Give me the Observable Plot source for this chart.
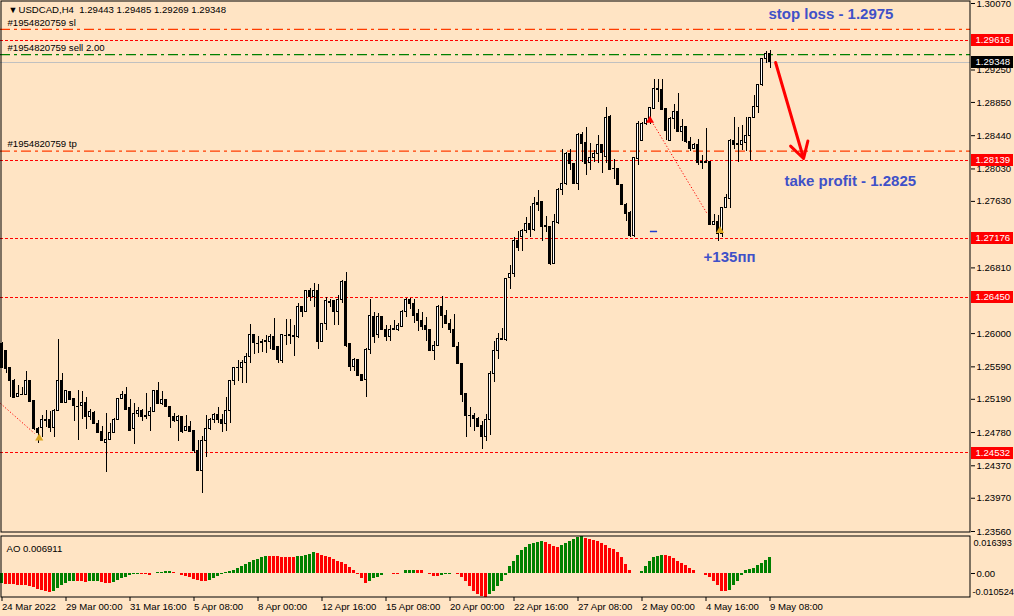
<!DOCTYPE html>
<html><head><meta charset="utf-8">
<script src="https://cdn.jsdelivr.net/npm/d3@7"></script>
<script src="https://cdn.jsdelivr.net/npm/@observablehq/plot@0.6"></script>
<style>
html,body{margin:0;padding:0;background:#ffe4c4;}
#wrap{position:relative;width:1014px;height:616px;overflow:hidden;}
#main{position:absolute;left:0;top:0;}
#ao{position:absolute;left:0;top:533px;}
svg{display:block;}
</style></head><body><div id="wrap"><div id="main"></div><div id="ao"></div></div>
<script>
const symbol = "USDCAD,H4";
const openP = [
1.2587,1.2578,1.2557,1.2542,1.2522,1.2525,1.2524,1.2541,1.2517,1.2482,
1.2483,1.2494,1.2493,1.2484,1.2504,1.2542,1.2514,1.2528,1.2519,1.2510,
1.2511,1.2515,1.2497,1.2502,1.2489,1.2479,1.2465,1.2469,1.2477,1.2494,
1.2519,1.2524,1.2508,1.2482,1.2501,1.2504,1.2497,1.2499,1.2503,1.2529,
1.2513,1.2518,1.2510,1.2497,1.2492,1.2497,1.2480,1.2485,1.2480,1.2455,
1.2430,1.2467,1.2482,1.2494,1.2500,1.2494,1.2489,1.2504,1.2541,1.2558,
1.2558,1.2564,1.2571,1.2598,1.2588,1.2588,1.2591,1.2590,1.2596,1.2583,
1.2566,1.2598,1.2598,1.2597,1.2596,1.2633,1.2627,1.2652,1.2645,1.2653,
1.2590,1.2612,1.2639,1.2640,1.2627,1.2642,1.2664,1.2587,1.2559,1.2568,
1.2549,1.2543,1.2580,1.2621,1.2598,1.2620,1.2605,1.2596,1.2606,1.2605,
1.2608,1.2627,1.2641,1.2637,1.2624,1.2616,1.2609,1.2605,1.2578,1.2585,
1.2633,1.2622,1.2612,1.2605,1.2583,1.2563,1.2525,1.2499,1.2498,1.2495,
1.2486,1.2473,1.2494,1.2550,1.2578,1.2593,1.2592,1.2668,1.2674,1.2714,
1.2719,1.2727,1.2735,1.2728,1.2761,1.2762,1.2733,1.2732,1.2686,1.2736,
1.2777,1.2785,1.2822,1.2809,1.2784,1.2845,1.2835,1.2810,1.2817,1.2822,
1.2833,1.2818,1.2867,1.2803,1.2803,1.2783,1.2759,1.2749,1.2720,1.2815,
1.2838,1.2858,1.2864,1.2877,1.2901,1.2900,1.2877,1.2838,1.2864,1.2873,
1.2849,1.2855,1.2836,1.2828,1.2832,1.2811,1.2812,1.2811,1.2734,1.2738,
1.2723,1.2755,1.2766,1.2838,1.2834,1.2833,1.2835,1.2844,1.2866,1.2879,
1.2906,1.2938,1.29443];
const highP = [
1.2589,1.2579,1.2558,1.2543,1.2536,1.2534,1.2553,1.2542,1.2517,1.2484,
1.2499,1.2505,1.2504,1.2506,1.2593,1.2551,1.2530,1.2528,1.2519,1.2530,
1.2529,1.2521,1.2506,1.2504,1.2493,1.2485,1.2501,1.2489,1.2495,1.2520,
1.2529,1.2534,1.2519,1.2514,1.2509,1.2506,1.2526,1.2509,1.2530,1.2540,
1.2529,1.2519,1.2510,1.2501,1.2499,1.2497,1.2499,1.2492,1.2480,1.2468,
1.2473,1.2499,1.2495,1.2501,1.2509,1.2500,1.2521,1.2542,1.2558,1.2567,
1.2567,1.2575,1.2611,1.2598,1.2596,1.2593,1.2598,1.2599,1.2619,1.2583,
1.2598,1.2617,1.2617,1.2610,1.2637,1.2634,1.2653,1.2656,1.2662,1.2661,
1.2613,1.2645,1.2642,1.2640,1.2647,1.2665,1.2675,1.2587,1.2569,1.2568,
1.2549,1.2582,1.2642,1.2626,1.2625,1.2621,1.2610,1.2610,1.2616,1.2612,
1.2628,1.2643,1.2643,1.2642,1.2630,1.2626,1.2620,1.2605,1.2590,1.2635,
1.2646,1.2628,1.2617,1.2624,1.2589,1.2563,1.2525,1.2509,1.2502,1.2497,
1.2492,1.2500,1.2553,1.2590,1.2600,1.2606,1.2668,1.2684,1.2719,1.2726,
1.2728,1.2743,1.2757,1.2768,1.2776,1.2762,1.2744,1.2732,1.2747,1.2779,
1.2827,1.2823,1.2827,1.2809,1.2847,1.2848,1.2854,1.2834,1.2826,1.2844,
1.2833,1.2879,1.2869,1.2815,1.2804,1.2783,1.2761,1.2750,1.2817,1.2862,
1.2860,1.2865,1.2879,1.2913,1.2913,1.2913,1.2878,1.2866,1.2882,1.2896,
1.2864,1.2855,1.2842,1.2834,1.2839,1.2820,1.2853,1.2811,1.2747,1.2746,
1.2756,1.2772,1.2839,1.2866,1.2854,1.2857,1.2866,1.2867,1.2894,1.2906,
1.2939,1.2948,1.29485];
const lowP = [
1.2557,1.2551,1.2521,1.2520,1.2521,1.2524,1.2524,1.2516,1.2480,1.2464,
1.2472,1.2484,1.2478,1.2472,1.2504,1.2514,1.2514,1.2518,1.2492,1.2468,
1.2494,1.2482,1.2493,1.2489,1.2478,1.2467,1.2429,1.2469,1.2477,1.2494,
1.2519,1.2506,1.2480,1.2463,1.2497,1.2492,1.2494,1.2479,1.2503,1.2513,
1.2511,1.2509,1.2483,1.2491,1.2467,1.2477,1.2479,1.2479,1.2452,1.2430,
1.2403,1.2447,1.2480,1.2489,1.2489,1.2478,1.2479,1.2489,1.2536,1.2541,
1.2538,1.2538,1.2563,1.2574,1.2575,1.2577,1.2575,1.2580,1.2580,1.2563,
1.2563,1.2585,1.2587,1.2572,1.2594,1.2620,1.2627,1.2640,1.2632,1.2580,
1.2590,1.2604,1.2632,1.2610,1.2610,1.2637,1.2583,1.2553,1.2553,1.2548,
1.2541,1.2521,1.2574,1.2588,1.2594,1.2604,1.2590,1.2590,1.2604,1.2603,
1.2608,1.2620,1.2630,1.2612,1.2603,1.2604,1.2590,1.2578,1.2567,1.2584,
1.2606,1.2611,1.2600,1.2583,1.2563,1.2515,1.2472,1.2484,1.2479,1.2484,
1.2457,1.2467,1.2474,1.2540,1.2568,1.2591,1.2590,1.2654,1.2669,1.2701,
1.2701,1.2723,1.2719,1.2726,1.2750,1.2714,1.2725,1.2684,1.2686,1.2735,
1.2770,1.2783,1.2801,1.2784,1.2777,1.2811,1.2795,1.2801,1.2811,1.2810,
1.2797,1.2810,1.2802,1.2790,1.2782,1.2758,1.2738,1.2719,1.2719,1.2807,
1.2837,1.2857,1.2858,1.2876,1.2885,1.2876,1.2838,1.2837,1.2852,1.2848,
1.2837,1.2834,1.2825,1.2828,1.2807,1.2802,1.2810,1.2733,1.2733,1.2714,
1.2719,1.2754,1.2754,1.2827,1.2811,1.2826,1.2825,1.2813,1.2866,1.2871,
1.2905,1.2933,1.29269];
const closeP = [
1.2558,1.2556,1.2541,1.2521,1.2525,1.2525,1.2541,1.2516,1.2482,1.2477,
1.2494,1.2492,1.2484,1.2504,1.2542,1.2514,1.2529,1.2518,1.2511,1.2510,
1.2515,1.2497,1.2503,1.2489,1.2478,1.2467,1.2469,1.2477,1.2494,1.2519,
1.2524,1.2506,1.2480,1.2501,1.2504,1.2497,1.2499,1.2503,1.2529,1.2513,
1.2518,1.2509,1.2497,1.2492,1.2497,1.2479,1.2485,1.2479,1.2455,1.2430,
1.2467,1.2482,1.2494,1.2500,1.2494,1.2489,1.2504,1.2541,1.2558,1.2558,
1.2564,1.2571,1.2598,1.2588,1.2588,1.2590,1.2590,1.2596,1.2580,1.2567,
1.2598,1.2598,1.2597,1.2596,1.2633,1.2627,1.2652,1.2645,1.2653,1.2590,
1.2612,1.2640,1.2638,1.2627,1.2642,1.2664,1.2585,1.2559,1.2568,1.2548,
1.2542,1.2580,1.2622,1.2596,1.2620,1.2604,1.2596,1.2605,1.2605,1.2609,
1.2627,1.2641,1.2636,1.2622,1.2615,1.2608,1.2605,1.2578,1.2585,1.2633,
1.2622,1.2612,1.2605,1.2583,1.2563,1.2524,1.2499,1.2499,1.2495,1.2485,
1.2472,1.2494,1.2550,1.2578,1.2593,1.2592,1.2667,1.2674,1.2714,1.2706,
1.2727,1.2735,1.2728,1.2760,1.2759,1.2732,1.2731,1.2686,1.2737,1.2777,
1.2785,1.2822,1.2809,1.2784,1.2845,1.2834,1.2809,1.2817,1.2822,1.2833,
1.2823,1.2866,1.2802,1.2803,1.2783,1.2758,1.2748,1.2720,1.2816,1.2859,
1.2858,1.2864,1.2878,1.2901,1.2900,1.2876,1.2850,1.2865,1.2873,1.2848,
1.2855,1.2836,1.2828,1.2832,1.2810,1.2810,1.2810,1.2734,1.2738,1.2723,
1.2755,1.2767,1.2838,1.2832,1.2832,1.2837,1.2844,1.2866,1.2880,1.2906,
1.2938,1.2945,1.29348];
const aoValues = [
-0.00464,-0.00472,-0.0048,-0.00496,-0.00512,-0.00528,-0.00544,-0.00576,-0.00624,-0.00688,
-0.00768,-0.00816,-0.00824,-0.00784,-0.00672,-0.00544,-0.00448,-0.00368,-0.00336,-0.00352,
-0.00368,-0.00384,-0.00376,-0.00368,-0.0036,-0.00416,-0.00448,-0.00456,-0.00416,-0.0032,
-0.0024,-0.00176,-0.00096,-0.00064,-0.00048,-0.00056,-0.00064,-0.00072,-0.00016,0.00032,
0.00064,0.0008,0.00088,0.00032,-0.00016,-0.0008,-0.00144,-0.00192,-0.00256,-0.0032,
-0.00368,-0.00376,-0.0032,-0.00224,-0.00112,-0.00048,0.00032,0.0008,0.00144,0.00224,
0.0032,0.00416,0.00496,0.00576,0.0064,0.00704,0.00768,0.00752,0.00744,0.00736,
0.00728,0.0072,0.00712,0.00704,0.00736,0.00768,0.008,0.00848,0.00912,0.0088,
0.00816,0.00752,0.00688,0.00608,0.00544,0.0048,0.004,0.00256,0.00128,-0.00032,
-0.0024,-0.00448,-0.00336,-0.0024,-0.0016,-0.00096,0.00016,-0.00016,-0.00024,-0.00032,
0.00016,0.00112,0.00144,0.00152,0.00144,0.00112,0.00016,-0.00064,-0.00112,-0.0012,
-0.0008,-0.00048,-0.00032,-0.00016,-0.00048,-0.00176,-0.00368,-0.00576,-0.00816,-0.00944,
-0.0104,-0.010524,-0.00944,-0.00784,-0.00576,-0.00368,-0.0008,0.00304,0.00528,0.00784,
0.01008,0.01136,0.01264,0.01328,0.01376,0.01424,0.0136,0.01296,0.012,0.01168,
0.01232,0.01328,0.01424,0.0152,0.01616,0.016393,0.01552,0.0152,0.01456,0.01424,
0.01328,0.01232,0.01104,0.01072,0.00912,0.00688,0.004,0.00144,0.00016,0.00008,
0.0008,0.00304,0.00528,0.0072,0.00752,0.00816,0.00784,0.00752,0.00656,0.00528,
0.00432,0.00336,0.00208,0.00112,0.00016,-0.00016,-0.0008,-0.00176,-0.00336,-0.00528,
-0.00784,-0.00816,-0.00752,-0.00528,-0.00336,-0.0008,0.00144,0.00176,0.0024,0.00336,
0.00464,0.00592,0.006911];

const yTickValues = [1.30070,1.29250,1.28850,1.28440,1.28030,1.27630,1.26810,1.26410,1.26000,1.25590,1.25190,1.24780,1.24370,1.23970,1.23560];
const dateTickBars = [0,16,32,48,64,80,96,112,128,144,160,176,192];
const dateTickLabels = ["24 Mar 2022","29 Mar 00:00","31 Mar 16:00","5 Apr 08:00","8 Apr 00:00","12 Apr 16:00","15 Apr 08:00","20 Apr 00:00","22 Apr 16:00","27 Apr 08:00","2 May 00:00","4 May 16:00","9 May 08:00"];

const levelPrices = [1.29616, 1.28139, 1.27176, 1.26450, 1.24532];
const orderLabels = ["#1954820759 sl", "#1954820759 sell 2.00", "#1954820759 tp"];
const orderPrices = [1.2975, 1.2944, 1.2825];
const bidPrice = 1.29348;

const annoTexts = ["stop loss - 1.2975", "take profit - 1.2825", "+135пп"];
const annoBars = [191.6, 195.6, 175.4];
const annoPrices = [1.29934, 1.27875, 1.26938];

const arrowFrom = {bar: 193.4, price: 1.29343};
const arrowTo = {bar: 200.4, price: 1.28159};
const tradeLinks = [
  {b1: 162.4, p1: 1.2862, b2: 176.4, p2: 1.2747},
  {b1: -0.4, p1: 1.2514, b2: 8.1, p2: 1.2477}
];
const tradeMarks = [
  {bar: 162.0, price: 1.2863, color: "#ff0000"},
  {bar: 179.5, price: 1.2727, color: "#daa520"},
  {bar: 9.3, price: 1.2471, color: "#daa520"}
];
const blueDash = {b1: 162.1, b2: 163.9, price: 1.27259};

const aoLabel = "AO 0.006911";
const aoMax = 0.016393, aoMin = -0.010524;

const n = openP.length;
const bars = d3.range(n).map(i => ({i, o: openP[i], h: highP[i], l: lowP[i], c: closeP[i]}));
const last = bars[n - 1];
const header = `${symbol}  ${[last.o, last.h, last.l, last.c].map(v => v.toFixed(5)).join(" ")}`;

const FONT = "'Liberation Sans', Arial, sans-serif";
const FS = 9.6;
const xCfg = {type: "linear", domain: [-0.375, 242.125], range: [0, 970], axis: null, label: null};
const tagRed = levelPrices.map(p => ({price: p}));
const tagBlack = [{price: bidPrice}];
const orders = orderLabels.map((t, k) => ({t, price: orderPrices[k]}));
const annos = annoTexts.map((t, k) => ({t, bar: annoBars[k], price: annoPrices[k]}));
const dojis = bars.filter(d => Math.abs(d.o - d.c) < 0.00006);

const mainPlot = Plot.plot({
  width: 1014, height: 533,
  marginLeft: 0, marginRight: 44, marginTop: 0, marginBottom: 1,
  style: {background: "transparent", fontFamily: FONT, fontSize: FS + "px", color: "black", overflow: "visible"},
  x: xCfg,
  y: {type: "linear", domain: [1.2356, 1.3007], range: [531, 3], label: null},
  marks: [
    Plot.ruleY(levelPrices, {stroke: "#ff0000", strokeDasharray: "3,2", shapeRendering: "crispEdges"}),
    Plot.ruleY([orderPrices[0], orderPrices[2]], {stroke: "#ff3c00", strokeWidth: 1.3, strokeDasharray: "10,4,3,4"}),
    Plot.ruleY([orderPrices[1]], {stroke: "#008000", strokeWidth: 1.3, strokeDasharray: "10,4,3,4"}),
    Plot.ruleY([bidPrice], {stroke: "#c0c0c0", shapeRendering: "crispEdges"}),
    Plot.text(orders, {y: "price", text: "t", frameAnchor: "left", dx: 7, dy: -7, textAnchor: "start", fill: "black", fontSize: FS}),
    Plot.link(tradeLinks, {x1: "b1", y1: "p1", x2: "b2", y2: "p2", stroke: "#ff0000", strokeDasharray: "1.2,2"}),
    Plot.ruleX(bars, {x: "i", y1: "l", y2: "h", stroke: "black", strokeWidth: 1, shapeRendering: "crispEdges"}),
    Plot.rect(bars, {x1: d => d.i - 0.25, x2: d => d.i + 0.25, y1: "o", y2: "c",
      fill: d => d.c >= d.o ? "white" : "black", stroke: "black", strokeWidth: 1, shapeRendering: "crispEdges"}),
    Plot.ruleY(dojis, {y: "c", x1: d => d.i - 0.375, x2: d => d.i + 0.375, stroke: "black", shapeRendering: "crispEdges"}),
    Plot.dot(tradeMarks, {x: "bar", y: "price", fill: "color", symbol: "triangle", r: 3, stroke: null}),
    Plot.ruleY([blueDash], {y: "price", x1: "b1", x2: "b2", stroke: "#1f3fcf", strokeWidth: 1.5}),
    Plot.arrow([{a: arrowFrom, b: arrowTo}], {x1: d => d.a.bar, y1: d => d.a.price, x2: d => d.b.bar, y2: d => d.b.price,
      stroke: "#ff0000", strokeWidth: 3, headLength: 9}),
    Plot.text(annos, {x: "bar", y: "price", text: "t", textAnchor: "start", fill: "#3f51c8", fontWeight: "bold", fontSize: 15, fontFamily: FONT}),
    Plot.frame({stroke: "black", inset: 0.5}),
    Plot.axisY(yTickValues, {anchor: "right", label: null, tickSize: 4, tickPadding: 2, tickFormat: d => d.toFixed(5), fontSize: FS}),
    Plot.ruleY(tagRed, {y: "price", stroke: "#ff0000", strokeWidth: 12, insetLeft: 971, insetRight: -43, shapeRendering: "crispEdges"}),
    Plot.text(tagRed, {y: "price", text: d => d.price.toFixed(5), frameAnchor: "right", dx: 5, textAnchor: "start", fill: "white", fontSize: FS}),
    Plot.ruleY(tagBlack, {y: "price", stroke: "black", strokeWidth: 12, insetLeft: 971, insetRight: -43, shapeRendering: "crispEdges"}),
    Plot.text(tagBlack, {y: "price", text: d => d.price.toFixed(5), frameAnchor: "right", dx: 5, textAnchor: "start", fill: "white", fontSize: FS}),
    Plot.text([header], {text: d => d, frameAnchor: "top-left", dx: 18, dy: 6, textAnchor: "start", fill: "black", fontSize: FS}),
    Plot.text(["▼"], {text: d => d, frameAnchor: "top-left", dx: 8, dy: 6, fill: "black", fontSize: 9})
  ]
});
document.getElementById("main").appendChild(mainPlot);

const aoData = aoValues.map((v, i) => ({i, v, up: i === 0 || v >= aoValues[i - 1]}));
const aoPlot = Plot.plot({
  width: 1014, height: 83,
  marginLeft: 0, marginRight: 44, marginTop: 2, marginBottom: 19,
  style: {background: "transparent", fontFamily: FONT, fontSize: FS + "px", color: "black", overflow: "visible"},
  x: xCfg,
  y: {type: "linear", domain: [aoMin, aoMax], range: [63.75, 3], label: null},
  marks: [
    Plot.rect(aoData.filter(d => d.up), {x1: d => d.i - 0.375, x2: d => d.i + 0.375, y1: 0, y2: "v", fill: "#008000", shapeRendering: "crispEdges"}),
    Plot.rect(aoData.filter(d => !d.up), {x1: d => d.i - 0.375, x2: d => d.i + 0.375, y1: 0, y2: "v", fill: "#ff0000", shapeRendering: "crispEdges"}),
    Plot.frame({stroke: "black", inset: 0.5}),
    Plot.axisY([0], {anchor: "right", label: null, tickSize: 4, tickPadding: 2, tickFormat: d => d.toFixed(2), fontSize: FS}),
    Plot.text([aoMax], {y: d => d, text: d => d.toFixed(6), frameAnchor: "right", dx: 3, dy: 7, textAnchor: "start", fill: "black", fontSize: 9.2}),
    Plot.text([aoMin], {y: d => d, text: d => d.toFixed(6), frameAnchor: "right", dx: 2, dy: -5, textAnchor: "start", fill: "black", fontSize: 9.2}),
    Plot.text([aoLabel], {text: d => d, frameAnchor: "top-left", dx: 6, dy: 10, textAnchor: "start", fill: "black", fontSize: FS}),
    Plot.axisX(dateTickBars, {anchor: "bottom", label: null, tickSize: 4, tickPadding: 2, tickFormat: (d, k) => dateTickLabels[k], textAnchor: "start", fontSize: FS})
  ]
});
document.getElementById("ao").appendChild(aoPlot);
</script>
</body></html>
